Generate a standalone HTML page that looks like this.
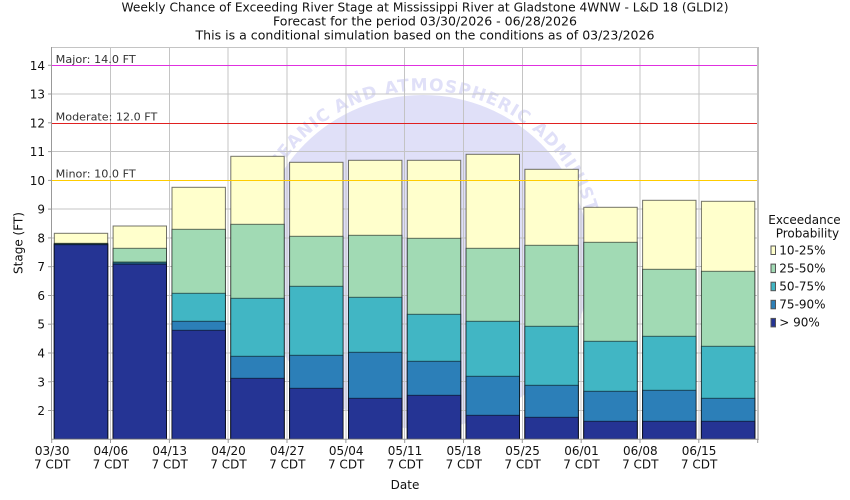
<!DOCTYPE html>
<html><head><meta charset="utf-8"><style>
html,body{margin:0;padding:0;background:#fff;}
svg{display:block;}
text{font-family:"DejaVu Sans","Liberation Sans",sans-serif;}
</style></head><body>
<svg width="850" height="500" viewBox="0 0 850 500" xmlns="http://www.w3.org/2000/svg">
<defs>
<clipPath id="pc"><rect x="52" y="47" width="706" height="392"/></clipPath>
<path id="ring" d="M423,433.5 A171.5,171.5 0 0 1 423,90.5 A171.5,171.5 0 0 1 423,433.5"/>
</defs>
<rect width="850" height="500" fill="#fff"/>
<!-- Title -->
<text x="425" y="11.7" font-size="12" text-anchor="middle" textLength="607" lengthAdjust="spacingAndGlyphs" fill="#111">Weekly Chance of Exceeding River Stage at Mississippi River at Gladstone 4WNW - L&amp;D 18 (GLDI2)</text>
<text x="425" y="25.7" font-size="12" text-anchor="middle" textLength="304" lengthAdjust="spacingAndGlyphs" fill="#111">Forecast for the period 03/30/2026 - 06/28/2026</text>
<text x="425" y="39.7" font-size="12" text-anchor="middle" textLength="459" lengthAdjust="spacingAndGlyphs" fill="#111">This is a conditional simulation based on the conditions as of 03/23/2026</text>

<!-- Watermark -->
<g clip-path="url(#pc)">
<circle cx="423" cy="262" r="167" fill="#e0e0f8"/>
<text font-size="17" font-weight="bold" fill="#e0e0f8" letter-spacing="1"><textPath href="#ring" startOffset="239">NATIONAL OCEANIC AND ATMOSPHERIC ADMINISTRATION</textPath></text>
</g>

<!-- Gridlines -->
<g stroke="#c4c4c4" stroke-width="1" shape-rendering="crispEdges">
<line x1="52" x2="758" y1="47.5" y2="47.5"/>
<line x1="52" x2="758" y1="410.5" y2="410.5"/>
<line x1="52" x2="758" y1="381.5" y2="381.5"/>
<line x1="52" x2="758" y1="353" y2="353"/>
<line x1="52" x2="758" y1="324.2" y2="324.2"/>
<line x1="52" x2="758" y1="295.5" y2="295.5"/>
<line x1="52" x2="758" y1="266.7" y2="266.7"/>
<line x1="52" x2="758" y1="237.9" y2="237.9"/>
<line x1="52" x2="758" y1="209.1" y2="209.1"/>
<line x1="52" x2="758" y1="151.6" y2="151.6"/>
<line x1="52" x2="758" y1="94" y2="94"/>
<line y1="47" y2="439" x1="110.5" x2="110.5"/>
<line y1="47" y2="439" x1="169.4" x2="169.4"/>
<line y1="47" y2="439" x1="228.2" x2="228.2"/>
<line y1="47" y2="439" x1="287" x2="287"/>
<line y1="47" y2="439" x1="345.9" x2="345.9"/>
<line y1="47" y2="439" x1="404.7" x2="404.7"/>
<line y1="47" y2="439" x1="463.5" x2="463.5"/>
<line y1="47" y2="439" x1="522.3" x2="522.3"/>
<line y1="47" y2="439" x1="581.2" x2="581.2"/>
<line y1="47" y2="439" x1="640" x2="640"/>
<line y1="47" y2="439" x1="698.8" x2="698.8"/>
</g>
<line x1="758" x2="758" y1="47" y2="440" stroke="#c0c0c0" stroke-width="2"/>

<!-- Bars -->
<g stroke="#000" stroke-opacity="0.55" stroke-width="1">
<g transform="translate(54.3,0)">
<rect x="0" width="53.4" y="233.3" height="205.7" fill="#ffffcc"/>
<rect x="0" width="53.4" y="243.3" height="195.7" fill="#a1dab4"/>
<rect x="0" width="53.4" y="243.8" height="195.2" fill="#41b6c4"/>
<rect x="0" width="53.4" y="244.2" height="194.8" fill="#2c7fb8"/>
<rect x="0" width="53.4" y="244.7" height="194.3" fill="#253494"/>
</g>
<g transform="translate(113.1,0)">
<rect x="0" width="53.4" y="226" height="213" fill="#ffffcc"/>
<rect x="0" width="53.4" y="248.3" height="190.7" fill="#a1dab4"/>
<rect x="0" width="53.4" y="262" height="177" fill="#41b6c4"/>
<rect x="0" width="53.4" y="263" height="176" fill="#2c7fb8"/>
<rect x="0" width="53.4" y="264.3" height="174.7" fill="#253494"/>
</g>
<g transform="translate(172,0)">
<rect x="0" width="53.4" y="187.3" height="251.7" fill="#ffffcc"/>
<rect x="0" width="53.4" y="229.3" height="209.7" fill="#a1dab4"/>
<rect x="0" width="53.4" y="293.3" height="145.7" fill="#41b6c4"/>
<rect x="0" width="53.4" y="321.3" height="117.7" fill="#2c7fb8"/>
<rect x="0" width="53.4" y="330.3" height="108.7" fill="#253494"/>
</g>
<g transform="translate(230.8,0)">
<rect x="0" width="53.4" y="156.3" height="282.7" fill="#ffffcc"/>
<rect x="0" width="53.4" y="224.3" height="214.7" fill="#a1dab4"/>
<rect x="0" width="53.4" y="298.3" height="140.7" fill="#41b6c4"/>
<rect x="0" width="53.4" y="356.3" height="82.7" fill="#2c7fb8"/>
<rect x="0" width="53.4" y="378.3" height="60.7" fill="#253494"/>
</g>
<g transform="translate(289.6,0)">
<rect x="0" width="53.4" y="162.3" height="276.7" fill="#ffffcc"/>
<rect x="0" width="53.4" y="236.3" height="202.7" fill="#a1dab4"/>
<rect x="0" width="53.4" y="286.3" height="152.7" fill="#41b6c4"/>
<rect x="0" width="53.4" y="355.3" height="83.7" fill="#2c7fb8"/>
<rect x="0" width="53.4" y="388.3" height="50.7" fill="#253494"/>
</g>
<g transform="translate(348.5,0)">
<rect x="0" width="53.4" y="160.3" height="278.7" fill="#ffffcc"/>
<rect x="0" width="53.4" y="235.3" height="203.7" fill="#a1dab4"/>
<rect x="0" width="53.4" y="297.3" height="141.7" fill="#41b6c4"/>
<rect x="0" width="53.4" y="352.3" height="86.7" fill="#2c7fb8"/>
<rect x="0" width="53.4" y="398.3" height="40.7" fill="#253494"/>
</g>
<g transform="translate(407.3,0)">
<rect x="0" width="53.4" y="160.3" height="278.7" fill="#ffffcc"/>
<rect x="0" width="53.4" y="238.3" height="200.7" fill="#a1dab4"/>
<rect x="0" width="53.4" y="314.3" height="124.7" fill="#41b6c4"/>
<rect x="0" width="53.4" y="361.3" height="77.7" fill="#2c7fb8"/>
<rect x="0" width="53.4" y="395.3" height="43.7" fill="#253494"/>
</g>
<g transform="translate(466.1,0)">
<rect x="0" width="53.4" y="154.3" height="284.7" fill="#ffffcc"/>
<rect x="0" width="53.4" y="248.3" height="190.7" fill="#a1dab4"/>
<rect x="0" width="53.4" y="321.3" height="117.7" fill="#41b6c4"/>
<rect x="0" width="53.4" y="376.3" height="62.7" fill="#2c7fb8"/>
<rect x="0" width="53.4" y="415.3" height="23.7" fill="#253494"/>
</g>
<g transform="translate(524.9,0)">
<rect x="0" width="53.4" y="169.3" height="269.7" fill="#ffffcc"/>
<rect x="0" width="53.4" y="245.3" height="193.7" fill="#a1dab4"/>
<rect x="0" width="53.4" y="326.3" height="112.7" fill="#41b6c4"/>
<rect x="0" width="53.4" y="385.3" height="53.7" fill="#2c7fb8"/>
<rect x="0" width="53.4" y="417.3" height="21.7" fill="#253494"/>
</g>
<g transform="translate(583.8,0)">
<rect x="0" width="53.4" y="207.3" height="231.7" fill="#ffffcc"/>
<rect x="0" width="53.4" y="242.3" height="196.7" fill="#a1dab4"/>
<rect x="0" width="53.4" y="341.3" height="97.7" fill="#41b6c4"/>
<rect x="0" width="53.4" y="391.3" height="47.7" fill="#2c7fb8"/>
<rect x="0" width="53.4" y="421.3" height="17.7" fill="#253494"/>
</g>
<g transform="translate(642.6,0)">
<rect x="0" width="53.4" y="200.3" height="238.7" fill="#ffffcc"/>
<rect x="0" width="53.4" y="269.3" height="169.7" fill="#a1dab4"/>
<rect x="0" width="53.4" y="336.3" height="102.7" fill="#41b6c4"/>
<rect x="0" width="53.4" y="390.3" height="48.7" fill="#2c7fb8"/>
<rect x="0" width="53.4" y="421.3" height="17.7" fill="#253494"/>
</g>
<g transform="translate(701.4,0)">
<rect x="0" width="53.4" y="201.3" height="237.7" fill="#ffffcc"/>
<rect x="0" width="53.4" y="271.3" height="167.7" fill="#a1dab4"/>
<rect x="0" width="53.4" y="346.3" height="92.7" fill="#41b6c4"/>
<rect x="0" width="53.4" y="398.3" height="40.7" fill="#2c7fb8"/>
<rect x="0" width="53.4" y="421.3" height="17.7" fill="#253494"/>
</g>
</g>

<!-- Threshold lines -->
<g shape-rendering="crispEdges">
<line x1="52" x2="757" y1="65.5" y2="65.5" stroke="#e030e0" stroke-width="1"/>
<line x1="52" x2="757" y1="123.5" y2="123.5" stroke="#e02020" stroke-width="1"/>
<line x1="52" x2="757" y1="180.5" y2="180.5" stroke="#ffcc00" stroke-width="1"/>
</g>
<text x="55.7" y="63" font-size="10.5" fill="#333" textLength="80" lengthAdjust="spacingAndGlyphs">Major: 14.0 FT</text>
<text x="55.7" y="120.5" font-size="10.5" fill="#333" textLength="101.6" lengthAdjust="spacingAndGlyphs">Moderate: 12.0 FT</text>
<text x="55.7" y="177.7" font-size="10.5" fill="#333" textLength="80" lengthAdjust="spacingAndGlyphs">Minor: 10.0 FT</text>

<!-- Axes -->
<line x1="51.5" x2="51.5" y1="47" y2="440" stroke="#999" stroke-width="1"/>
<line x1="51" x2="758" y1="439.3" y2="439.3" stroke="#999" stroke-width="1"/>
<g stroke="#999" stroke-width="1">
<line x1="48" x2="51.5" y1="410.5" y2="410.5"/>
<line x1="48" x2="51.5" y1="381.8" y2="381.8"/>
<line x1="48" x2="51.5" y1="353" y2="353"/>
<line x1="48" x2="51.5" y1="324.2" y2="324.2"/>
<line x1="48" x2="51.5" y1="295.5" y2="295.5"/>
<line x1="48" x2="51.5" y1="266.7" y2="266.7"/>
<line x1="48" x2="51.5" y1="237.9" y2="237.9"/>
<line x1="48" x2="51.5" y1="209.1" y2="209.1"/>
<line x1="48" x2="51.5" y1="180.4" y2="180.4"/>
<line x1="48" x2="51.5" y1="151.6" y2="151.6"/>
<line x1="48" x2="51.5" y1="122.8" y2="122.8"/>
<line x1="48" x2="51.5" y1="94" y2="94"/>
<line x1="48" x2="51.5" y1="65.3" y2="65.3"/>
<line y1="439" y2="443" x1="51.7" x2="51.7"/>
<line y1="439" y2="443" x1="110.5" x2="110.5"/>
<line y1="439" y2="443" x1="169.4" x2="169.4"/>
<line y1="439" y2="443" x1="228.2" x2="228.2"/>
<line y1="439" y2="443" x1="287" x2="287"/>
<line y1="439" y2="443" x1="345.9" x2="345.9"/>
<line y1="439" y2="443" x1="404.7" x2="404.7"/>
<line y1="439" y2="443" x1="463.5" x2="463.5"/>
<line y1="439" y2="443" x1="522.3" x2="522.3"/>
<line y1="439" y2="443" x1="581.2" x2="581.2"/>
<line y1="439" y2="443" x1="640" x2="640"/>
<line y1="439" y2="443" x1="698.8" x2="698.8"/>
<line y1="439" y2="443" x1="757.7" x2="757.7"/>
</g>

<!-- Y tick labels -->
<g font-size="12" text-anchor="end" fill="#111">
<text x="45" y="415">2</text>
<text x="45" y="386.3">3</text>
<text x="45" y="357.5">4</text>
<text x="45" y="328.7">5</text>
<text x="45" y="300">6</text>
<text x="45" y="271.2">7</text>
<text x="45" y="242.4">8</text>
<text x="45" y="213.6">9</text>
<text x="45" y="184.9">10</text>
<text x="45" y="156.1">11</text>
<text x="45" y="127.3">12</text>
<text x="45" y="98.5">13</text>
<text x="45" y="69.8">14</text>
</g>
<text transform="translate(22.5,243) rotate(-90)" font-size="12" text-anchor="middle" fill="#111">Stage (FT)</text>

<!-- X tick labels -->
<g font-size="12" text-anchor="middle" fill="#111">
<text x="52.2" y="455">03/30</text><text x="52.2" y="468.5">7 CDT</text>
<text x="110.8" y="455">04/06</text><text x="110.8" y="468.5">7 CDT</text>
<text x="169.7" y="455">04/13</text><text x="169.7" y="468.5">7 CDT</text>
<text x="228.5" y="455">04/20</text><text x="228.5" y="468.5">7 CDT</text>
<text x="287.3" y="455">04/27</text><text x="287.3" y="468.5">7 CDT</text>
<text x="346.2" y="455">05/04</text><text x="346.2" y="468.5">7 CDT</text>
<text x="405" y="455">05/11</text><text x="405" y="468.5">7 CDT</text>
<text x="463.8" y="455">05/18</text><text x="463.8" y="468.5">7 CDT</text>
<text x="522.6" y="455">05/25</text><text x="522.6" y="468.5">7 CDT</text>
<text x="581.5" y="455">06/01</text><text x="581.5" y="468.5">7 CDT</text>
<text x="640.3" y="455">06/08</text><text x="640.3" y="468.5">7 CDT</text>
<text x="699.1" y="455">06/15</text><text x="699.1" y="468.5">7 CDT</text>
</g>
<text x="405" y="489" font-size="12" text-anchor="middle" fill="#111">Date</text>

<!-- Legend -->
<g font-size="12" fill="#111">
<text x="768.3" y="224">Exceedance</text>
<text x="775.7" y="237.7">Probability</text>
<g stroke="#555" stroke-width="1">
<rect x="771" y="246" width="4.5" height="8.5" fill="#ffffcc"/>
<rect x="771" y="264.1" width="4.5" height="8.5" fill="#a1dab4"/>
<rect x="771" y="282.2" width="4.5" height="8.5" fill="#41b6c4"/>
<rect x="771" y="300.3" width="4.5" height="8.5" fill="#2c7fb8"/>
<rect x="771" y="318.4" width="4.5" height="8.5" fill="#253494"/>
</g>
<text x="779.3" y="254.3">10-25%</text>
<text x="779.3" y="272.4">25-50%</text>
<text x="779.3" y="290.5">50-75%</text>
<text x="779.3" y="308.6">75-90%</text>
<text x="779.3" y="326.7">&gt; 90%</text>
</g>
</svg>
</body></html>
